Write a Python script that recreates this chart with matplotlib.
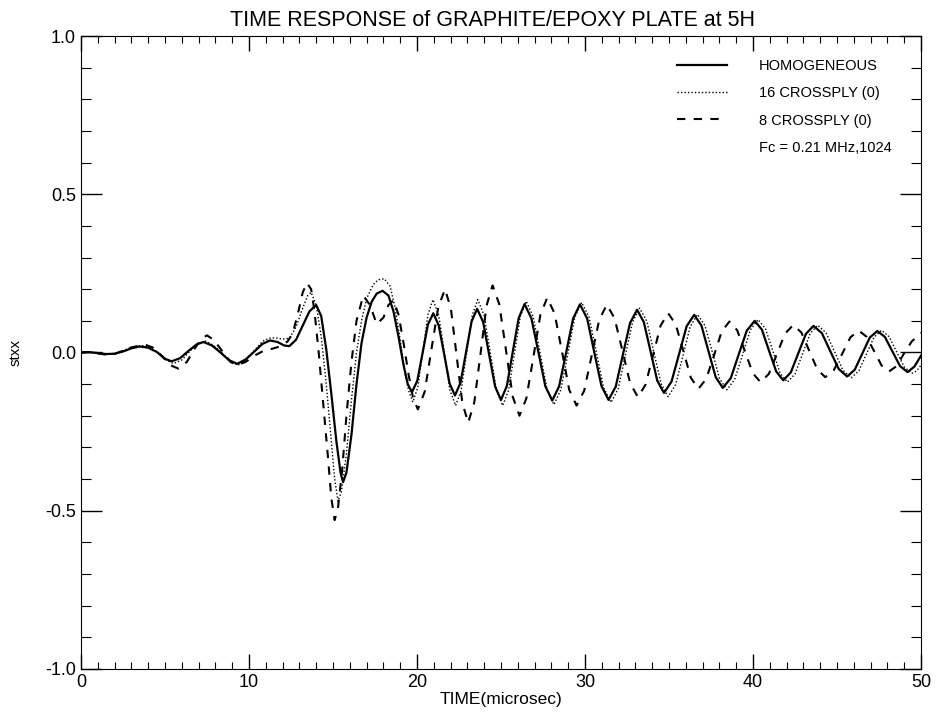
import matplotlib
matplotlib.use("Agg")
import matplotlib.pyplot as plt
from matplotlib.ticker import MultipleLocator

plt.rcParams["font.family"] = ["Liberation Sans", "DejaVu Sans"]

# HOMOGENEOUS (heltrukken)
t_homo = [0.0, 0.5, 1.0, 1.5, 2.0, 2.5, 3.0, 3.5, 4.0, 4.5, 5.0, 5.4, 5.9, 6.4, 6.9, 7.3,
          7.8, 8.3, 8.8, 9.3, 9.8, 10.3, 10.8, 11.25, 11.7, 12.1, 12.4, 12.8, 13.2, 13.6,
          14.0, 14.3, 14.6, 14.9, 15.2, 15.45, 15.6, 15.8, 16.1, 16.4, 16.7, 17.0, 17.3,
          17.6, 17.95, 18.3, 18.6, 18.9, 19.2, 19.45, 19.7,
          20.02, 20.34, 20.65, 20.97, 21.29, 21.62, 21.94, 22.26, 22.59, 22.92, 23.25, 23.58,
          23.94, 24.29, 24.65, 25.0, 25.35, 25.7, 26.05, 26.4, 26.81, 27.23, 27.64, 28.05,
          28.46, 28.88, 29.29, 29.7, 30.13, 30.55, 30.98, 31.4, 31.83, 32.25, 32.68, 33.1,
          33.5, 33.9, 34.3, 34.7, 35.15, 35.6, 36.05, 36.5, 36.93, 37.35, 37.78, 38.2,
          38.68, 39.15, 39.63, 40.1, 40.53, 40.95, 41.38, 41.8, 42.25, 42.7, 43.15, 43.6,
          44.1, 44.6, 45.1, 45.6, 46.05, 46.5, 46.95, 47.4, 47.85, 48.3, 48.75, 49.2,
          49.6, 50.0]
v_homo = [0.0, 0.001, -0.002, -0.005, -0.004, 0.003, 0.013, 0.019, 0.015, 0.002, -0.02, -0.028, -0.018, 0.005, 0.026, 0.033,
          0.022, 0.0, -0.024, -0.036, -0.022, 0.002, 0.027, 0.038, 0.033, 0.022, 0.02, 0.04, 0.085, 0.13,
          0.15, 0.115, 0.01, -0.13, -0.28, -0.38, -0.41, -0.38, -0.26, -0.1, 0.03, 0.11, 0.16,
          0.186, 0.195, 0.18, 0.13, 0.05, -0.04, -0.1, -0.126,
          -0.089, 0.0, 0.088, 0.124, 0.086, -0.006, -0.098, -0.136, -0.096, 0.001, 0.098, 0.138,
          0.096, -0.006, -0.108, -0.150, -0.106, 0.002, 0.108, 0.153, 0.108, 0.0, -0.107, -0.152,
          -0.107, 0.0, 0.107, 0.152, 0.107, 0.001, -0.106, -0.150, -0.108, -0.008, 0.093, 0.135,
          0.096, 0.004, -0.089, -0.128, -0.092, -0.005, 0.083, 0.119, 0.085, 0.004, -0.078, -0.112,
          -0.081, -0.006, 0.069, 0.100, 0.072, 0.006, -0.060, -0.088, -0.063, -0.002, 0.059, 0.084,
          0.061, 0.004, -0.052, -0.076, -0.055, -0.004, 0.047, 0.068, 0.049, 0.003, -0.043, -0.062,
          -0.045, -0.01]

# 16 CROSSPLY (0) (prikket)
t_16 = [0.0, 0.5, 1.0, 1.5, 2.0, 2.5, 3.0, 3.6, 4.1, 4.6, 5.1, 5.5, 6.0, 6.5, 7.0, 7.4,
        7.9, 8.4, 8.9, 9.35, 9.8, 10.3, 10.8, 11.2, 11.6, 12.0, 12.4, 12.8, 13.2, 13.5,
        13.7, 14.0, 14.3, 14.6, 14.9, 15.1, 15.3, 15.5, 15.8, 16.1, 16.4, 16.7, 17.0,
        17.4, 17.7, 18.05, 18.4, 18.7, 19.0, 19.3, 19.5, 19.75,
        20.05, 20.35, 20.65, 20.95, 21.29, 21.63, 21.96, 22.3, 22.63, 22.96, 23.29, 23.62,
        23.99, 24.36, 24.73, 25.1, 25.45, 25.8, 26.15, 26.5, 26.91, 27.33, 27.74, 28.15,
        28.56, 28.98, 29.39, 29.8, 30.24, 30.68, 31.11, 31.55, 31.98, 32.4, 32.83, 33.25,
        33.68, 34.1, 34.53, 34.95, 35.39, 35.83, 36.26, 36.7, 37.14, 37.58, 38.01, 38.45,
        38.91, 39.38, 39.84, 40.3, 40.74, 41.18, 41.61, 42.05, 42.5, 42.95, 43.4, 43.85,
        44.35, 44.85, 45.35, 45.85, 46.3, 46.75, 47.2, 47.65, 48.1, 48.55, 49.0, 49.45,
        49.75, 50.0]
v_16 = [0.0, 0.001, -0.002, -0.005, -0.003, 0.006, 0.016, 0.022, 0.016, 0.0, -0.025, -0.035, -0.024, 0.005, 0.03, 0.036,
        0.022, -0.002, -0.028, -0.04, -0.026, 0.005, 0.035, 0.045, 0.046, 0.042, 0.045, 0.08, 0.14, 0.18,
        0.19, 0.15, 0.05, -0.1, -0.28, -0.40, -0.47, -0.44, -0.32, -0.15, 0.0, 0.1, 0.17,
        0.215, 0.23, 0.233, 0.21, 0.14, 0.04, -0.07, -0.12, -0.157,
        -0.110, 0.005, 0.119, 0.167, 0.118, 0.0, -0.119, -0.168, -0.119, 0.0, 0.118, 0.167,
        0.118, 0.0, -0.119, -0.168, -0.120, -0.003, 0.114, 0.162, 0.114, -0.002, -0.117, -0.165,
        -0.118, -0.004, 0.111, 0.158, 0.112, 0.0, -0.112, -0.158, -0.114, -0.009, 0.096, 0.140,
        0.099, 0.0, -0.099, -0.140, -0.102, -0.010, 0.082, 0.120, 0.085, 0.001, -0.083, -0.118,
        -0.085, -0.007, 0.071, 0.104, 0.075, 0.005, -0.065, -0.094, -0.068, -0.004, 0.060, 0.086,
        0.062, 0.003, -0.056, -0.080, -0.058, -0.005, 0.048, 0.070, 0.050, 0.002, -0.046, -0.066,
        -0.058, -0.04]

# 8 CROSSPLY (0) (stiplet)
t_8 = [0.0, 0.5, 1.0, 1.5, 2.0, 2.5, 3.0, 3.8, 4.3, 4.8, 5.3, 5.8, 6.3, 6.8, 7.2, 7.5,
       7.9, 8.4, 8.9, 9.3, 9.8, 10.4, 10.9, 11.4, 11.9, 12.3, 12.6, 12.9, 13.2, 13.45,
       13.7, 13.9, 14.15, 14.4, 14.7, 14.9, 15.1, 15.3, 15.55, 15.8, 16.1, 16.4, 16.8,
       17.2, 17.6, 18.0, 18.3, 18.6, 18.9, 19.2, 19.5, 19.75, 20.05,
       20.46, 20.86, 21.27, 21.67, 22.02, 22.36, 22.7, 23.05, 23.41, 23.78, 24.14, 24.5,
       24.9, 25.3, 25.7, 26.1, 26.51, 26.93, 27.34, 27.75, 28.19, 28.63, 29.06, 29.5,
       29.95, 30.4, 30.85, 31.3, 31.76, 32.23, 32.69, 33.15, 33.6, 34.05, 34.5, 34.95,
       35.4, 35.85, 36.3, 36.75, 37.21, 37.68, 38.14, 38.6, 39.06, 39.53, 39.99, 40.45,
       40.94, 41.43, 41.91, 42.4, 42.88, 43.35, 43.83, 44.3, 44.8, 45.3, 45.8, 46.3,
       46.75, 47.2, 47.65, 48.1, 48.55, 49.0, 49.45, 50.0]
v_8 = [0.0, 0.001, -0.003, -0.007, -0.005, 0.006, 0.016, 0.025, 0.015, -0.01, -0.04, -0.051, -0.03, 0.015, 0.045, 0.054,
       0.04, 0.005, -0.03, -0.04, -0.03, -0.008, 0.006, 0.012, 0.02, 0.035, 0.06, 0.12, 0.19, 0.22,
       0.2, 0.13, 0.0, -0.15, -0.33, -0.46, -0.53, -0.49, -0.37, -0.2, -0.03, 0.1, 0.18,
       0.15, 0.09, 0.11, 0.15, 0.165, 0.12, 0.03, -0.07, -0.14, -0.18,
       -0.124, 0.01, 0.144, 0.20, 0.138, -0.011, -0.160, -0.222, -0.158, -0.005, 0.148, 0.212,
       0.152, 0.006, -0.140, -0.20, -0.145, -0.014, 0.118, 0.173, 0.123, 0.003, -0.118, -0.168,
       -0.121, -0.009, 0.104, 0.151, 0.108, 0.005, -0.098, -0.141, -0.102, -0.009, 0.085, 0.124,
       0.089, 0.005, -0.080, -0.115, -0.084, -0.009, 0.067, 0.098, 0.070, 0.002, -0.066, -0.094,
       -0.068, -0.004, 0.060, 0.087, 0.063, 0.005, -0.054, -0.078, -0.057, -0.005, 0.048, 0.069,
       0.050, 0.005, -0.041, -0.060, -0.043, -0.002, 0.035, 0.062]

fig = plt.figure(figsize=(9.36, 7.23), dpi=100)
ax = fig.add_axes([0.0865, 0.075, 0.8975, 0.875])

ax.plot(t_homo, v_homo, color="black", lw=1.6, label="HOMOGENEOUS")
ax.plot(t_16, v_16, color="black", lw=1.0, linestyle=(0, (1, 1.5)), label="16 CROSSPLY (0)")
ax.plot(t_8, v_8, color="black", lw=1.5, linestyle=(0, (4, 4)), label="8 CROSSPLY (0)")
ax.plot([], [], color="none", label="Fc = 0.21 MHz,1024")

ax.set_xlim(0, 50)
ax.set_ylim(-1, 1)
ax.xaxis.set_major_locator(MultipleLocator(10))
ax.xaxis.set_minor_locator(MultipleLocator(1))
ax.yaxis.set_major_locator(MultipleLocator(0.5))
ax.yaxis.set_minor_locator(MultipleLocator(0.1))
ax.yaxis.set_major_formatter(plt.FuncFormatter(lambda y, _: f"{y:.1f}"))
ax.tick_params(which="both", direction="in", top=True, right=True, labelsize=13)
ax.tick_params(axis="x", which="major", length=11, width=1)
ax.tick_params(axis="x", which="minor", length=5, width=0.8)
ax.tick_params(axis="y", which="major", length=15, width=1)
ax.tick_params(axis="y", which="minor", length=7, width=0.8)

# tittelen er litt smalere i originalen
ax.set_title("TIME RESPONSE of GRAPHITE/EPOXY PLATE at 5H", fontsize=15.5, pad=7, x=0.49)
ax.set_xlabel("TIME(microsec)", fontsize=12.5, labelpad=1)
ax.set_ylabel("stxx", fontsize=11, labelpad=16)

leg = ax.legend(loc="upper left", bbox_to_anchor=(0.716, 0.928), bbox_transform=fig.transFigure,
                frameon=False, fontsize=10.5, handlelength=3.4, handletextpad=2.2,
                labelspacing=0.9, borderpad=0)

fig.savefig("out.png", dpi=100)
